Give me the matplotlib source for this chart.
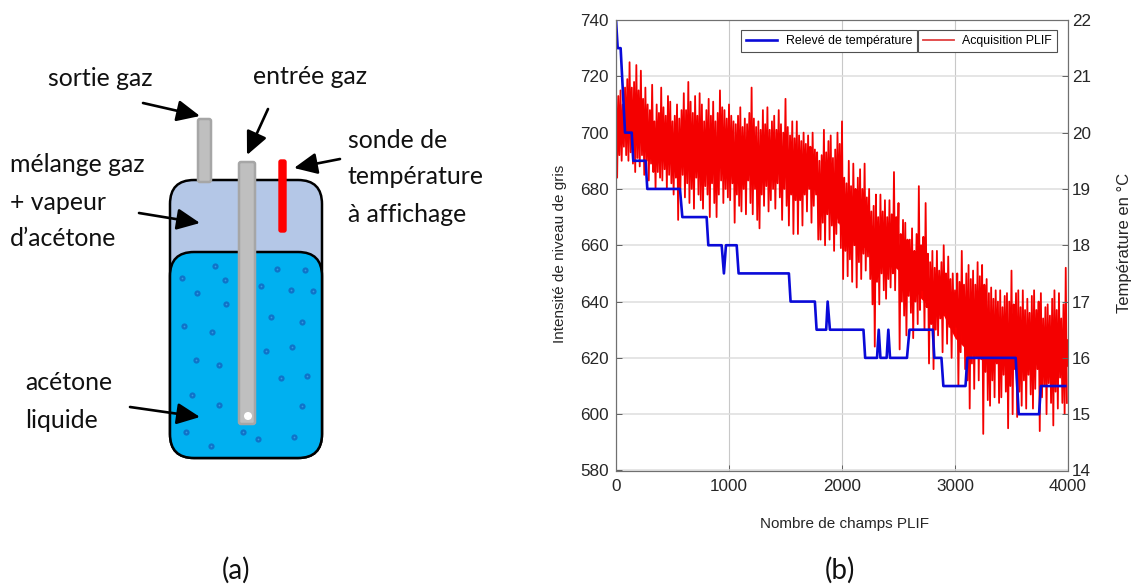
import numpy as np
import matplotlib
matplotlib.use("Agg")
import matplotlib.pyplot as plt
from matplotlib.patches import FancyBboxPatch, Circle, FancyArrowPatch

W, H = 1137, 585

# panel (b) : PLIF signal, upper and lower peak every 20 fields
plif_high = [
    716, 713, 715, 710, 716, 719, 725, 716, 718, 724,
    715, 722, 712, 716, 710, 708, 717, 704, 710, 707,
    716, 709, 706, 713, 711, 704, 706, 710, 705, 708,
    714, 708, 718, 711, 707, 713, 706, 714, 710, 704,
    708, 712, 706, 711, 704, 707, 715, 709, 708, 705,
    710, 706, 704, 703, 706, 709, 702, 705, 703, 707,
    716, 705, 702, 704, 701, 708, 703, 709, 701, 704,
    706, 701, 708, 703, 700, 712, 702, 699, 704, 698,
    704, 699, 697, 700, 696, 699, 695, 700, 694, 693,
    690, 692, 701, 693, 697, 699, 691, 694, 700, 696,
    704, 684, 682, 690, 681, 689, 680, 684, 687, 680,
    689, 677, 680, 672, 674, 678, 670, 678, 672, 676,
    670, 676, 671, 686, 670, 675, 664, 669, 668, 662,
    662, 666, 658, 664, 681, 660, 663, 675, 657, 654,
    658, 652, 658, 651, 654, 660, 650, 656, 648, 650,
    644, 650, 647, 658, 646, 650, 653, 648, 651, 646,
    654, 649, 653, 646, 648, 643, 645, 641, 644, 640,
    644, 638, 642, 643, 640, 651, 639, 643, 644, 638,
    644, 637, 641, 636, 642, 644, 637, 640, 643, 634,
    638, 639, 635, 641, 644, 637, 643, 634, 639, 652,
]
plif_low = [
    684, 692, 690, 695, 692, 690, 693, 689, 686, 691,
    688, 692, 685, 690, 683, 689, 686, 680, 686, 684,
    683, 687, 680, 685, 682, 678, 684, 669, 680, 685,
    677, 682, 675, 680, 673, 684, 678, 676, 673, 681,
    678, 670, 682, 675, 670, 678, 683, 675, 680, 677,
    676, 682, 668, 678, 674, 672, 680, 671, 683, 675,
    671, 680, 669, 666, 678, 674, 681, 672, 676, 680,
    673, 682, 677, 669, 680, 674, 667, 678, 664, 676,
    664, 676, 667, 678, 672, 680, 668, 674, 678, 662,
    662, 668, 660, 671, 662, 667, 658, 664, 668, 659,
    648, 658, 649, 655, 647, 660, 645, 654, 648, 657,
    651, 656, 648, 639, 624, 647, 639, 650, 644, 641,
    648, 645, 650, 644, 652, 623, 640, 635, 628, 642,
    636, 627, 640, 632, 637, 644, 630, 638, 618, 632,
    616, 630, 628, 634, 622, 636, 625, 631, 620, 629,
    631, 610, 622, 625, 616, 612, 602, 618, 609, 620,
    612, 620, 593, 615, 605, 603, 612, 606, 618, 604,
    606, 614, 608, 595, 610, 600, 616, 599, 608, 603,
    612, 602, 614, 607, 602, 609, 616, 594, 606, 610,
    600, 611, 604, 596, 608, 602, 613, 604, 600, 604,
]
# solid part of the trace, read every 100 fields
core_x = list(range(0, 4001, 100))
core_high = [703, 705, 707, 703, 699, 697, 698, 699, 697, 697, 695, 695, 693, 693, 693, 692, 690,
             688, 685, 681, 677, 675, 671, 665, 663, 659, 653, 649, 645, 641, 639, 637, 635, 633,
             632, 631, 629, 627, 627, 625, 627]
core_low = [700, 702, 702, 697, 697, 693, 691, 691, 689, 689, 689, 689, 687, 687, 687, 685, 685,
            683, 679, 675, 665, 663, 659, 655, 655, 651, 647, 641, 637, 635, 627, 623, 620, 618,
            619, 619, 617, 619, 617, 617, 617]

temp_x = [0, 15, 41, 80, 139, 153, 262, 277, 566, 587, 802, 817, 935, 955, 973, 1068,
          1085, 1530, 1545, 1760, 1775, 1860, 1873, 1893, 2190, 2205, 2310, 2325, 2340,
          2395, 2410, 2425, 2575, 2597, 2803, 2817, 2880, 2897, 3093, 3109, 3537, 3564,
          3744, 3760, 3976]
temp_y = [22, 21.5, 21.5, 20, 20, 19.5, 19.5, 19, 19, 18.5, 18.5, 18, 18, 17.5, 18, 18,
          17.5, 17.5, 17, 17, 16.5, 16.5, 17, 16.5, 16.5, 16, 16, 16.5, 16,
          16, 16.5, 16, 16, 16.5, 16.5, 16, 16, 15.5, 15.5, 16, 16, 15,
          15, 15.5, 15.5]

x_ticks = [0, 1000, 2000, 3000, 4000]
left_ticks = [580, 600, 620, 640, 660, 680, 700, 720, 740]
right_ticks = [14, 15, 16, 17, 18, 19, 20, 21, 22]

# panel (a) : bubbles in the liquid, in picture pixels
bubble_x = [215, 182, 225, 197, 226, 184, 212, 196, 219, 192, 219, 186, 211, 243, 258,
            277, 305, 261, 291, 313, 271, 302, 266, 292, 281, 307, 302, 294]
bubble_y = [266, 278, 280, 293, 304, 326, 332, 360, 365, 395, 405, 432, 446, 432, 439,
            269, 270, 286, 290, 291, 317, 322, 351, 347, 378, 376, 406, 437]

fig = plt.figure(figsize=(W / 100, H / 100), dpi=100)

# schematic drawn in pixel coordinates over the whole figure
bg = fig.add_axes([0, 0, 1, 1])
bg.set_xlim(0, W)
bg.set_ylim(H, 0)
bg.axis("off")


def round_box(x0, y0, x1, y1, r, fc, ec, lw, z):
    p = FancyBboxPatch((x0 + r, y0 + r), x1 - x0 - 2 * r, y1 - y0 - 2 * r,
                       boxstyle=f"round,pad={r},rounding_size={r}",
                       fc=fc, ec=ec, lw=lw, zorder=z)
    bg.add_patch(p)


round_box(170, 180, 322, 458, 24, "#b4c7e7", "black", 1.8, 1)
round_box(170, 252, 322, 458, 24, "#00b0f0", "black", 1.8, 2)
bg.scatter(bubble_x, bubble_y, s=20, c="#0f73c8", linewidths=0, zorder=3)
bg.scatter(bubble_x, bubble_y, s=1.5, c="#3a9ae0", linewidths=0, zorder=3)
round_box(198, 119, 211, 182, 2, "#bfbfbf", "#a6a6a6", 1.8, 4)
round_box(239, 162, 255, 424, 2, "#bfbfbf", "#a6a6a6", 1.8, 4)
round_box(279, 160, 286, 232, 2, "#ff0000", "#ff0000", 1, 4)
bg.add_patch(Circle((248, 416), 4, fc="white", ec="none", zorder=5))

arrows = [((143, 103), (200, 116)), ((268, 109), (247, 155)), ((340, 159), (294, 168)),
          ((139, 213), (200, 223)), ((130, 407), (200, 417))]
for a, b in arrows:
    bg.add_patch(FancyArrowPatch(a, b, arrowstyle="-|>,head_length=5.4,head_width=2.5",
                                 mutation_scale=2.6, color="black", lw=1.9,
                                 shrinkA=0, shrinkB=0, zorder=6))

labels = [("sortie gaz", 48, 78), ("entrée gaz", 253, 76), ("sonde de", 348, 140),
          ("température", 348, 177), ("à affichage", 348, 214), ("mélange gaz", 10, 165),
          ("+ vapeur", 10, 202), ("d’acétone", 10, 239), ("acétone", 25, 383), ("liquide", 25, 420)]
for s, x, y in labels:
    bg.text(x, y, s, family="Lato", fontsize=17.9, color="#111111", va="center", ha="left")
bg.text(236, 570, "(a)", family="Lato", fontsize=20, color="#111111", ha="center", va="center")
bg.text(840, 570, "(b)", family="Lato", fontsize=20, color="#111111", ha="center", va="center")

# panel (b)
ax = fig.add_axes([616 / W, 1 - 470.5 / H, 452 / W, 450.5 / H])
plif_x = np.arange(400) * 10
plif = np.column_stack([plif_high, plif_low]).ravel()
ax.fill_between(core_x, core_low, core_high, color="#ff0000", lw=0)
ax.plot(plif_x, plif, color="#f40000", lw=1.3)
ax.set_xlim(0, 4000)
ax.set_ylim(580, 740)
ax.set_xticks(x_ticks)
ax.set_yticks(left_ticks)
ax.set_axisbelow(True)
ax.grid(axis="y", color="#dedede", lw=1.1)
ax.grid(axis="x", color="#c8c8c8", lw=0.8)

ax2 = ax.twinx()
blue, = ax2.plot(temp_x, temp_y, color="#0a0ad8", lw=1.9, label="Relevé de température")
red_key, = ax2.plot([], [], color="#e04040", lw=1.3, label="Acquisition PLIF")
ax2.set_ylim(14, 22)
ax2.set_yticks(right_ticks)

for a in (ax, ax2):
    a.tick_params(direction="in", length=4, width=0.7, color="#606060",
                  labelcolor="#262626", labelsize=12.3, labelfontfamily="Liberation Sans")
    for sp in a.spines.values():
        sp.set_color("#707070")
        sp.set_linewidth(0.8)
ax.tick_params(axis="x", pad=6)
ax.tick_params(axis="y", pad=5)
ax2.tick_params(axis="y", pad=3)

ax.set_xlabel("Nombre de champs PLIF", family="Liberation Sans", fontsize=11, color="#262626", va="center")
ax.xaxis.set_label_coords(0.505, -0.119)
ax.set_ylabel("Intensité de niveau de gris", family="Liberation Sans", fontsize=11, color="#262626", va="center")
ax.yaxis.set_label_coords(-0.124, 0.48)
ax2.set_ylabel("Température en °C", family="Liberation Sans", fontsize=12, color="#262626", va="center")
ax2.yaxis.set_label_coords(1.125, 0.505)

leg_kw = dict(loc="upper left", bbox_transform=fig.transFigure, borderaxespad=0, fancybox=False,
              framealpha=1, edgecolor="#505050", prop={"family": "Liberation Sans", "size": 8.9},
              handlelength=2.55, borderpad=0.4, handletextpad=0.65)
leg1 = ax2.legend(handles=[blue], bbox_to_anchor=(741 / W, 1 - 30 / H), **leg_kw)
ax2.add_artist(leg1)
leg2 = ax2.legend(handles=[red_key], bbox_to_anchor=(918 / W, 1 - 30 / H), **leg_kw)
leg1.get_frame().set_linewidth(0.8)
leg2.get_frame().set_linewidth(0.8)

fig.savefig("out.png", dpi=100)
